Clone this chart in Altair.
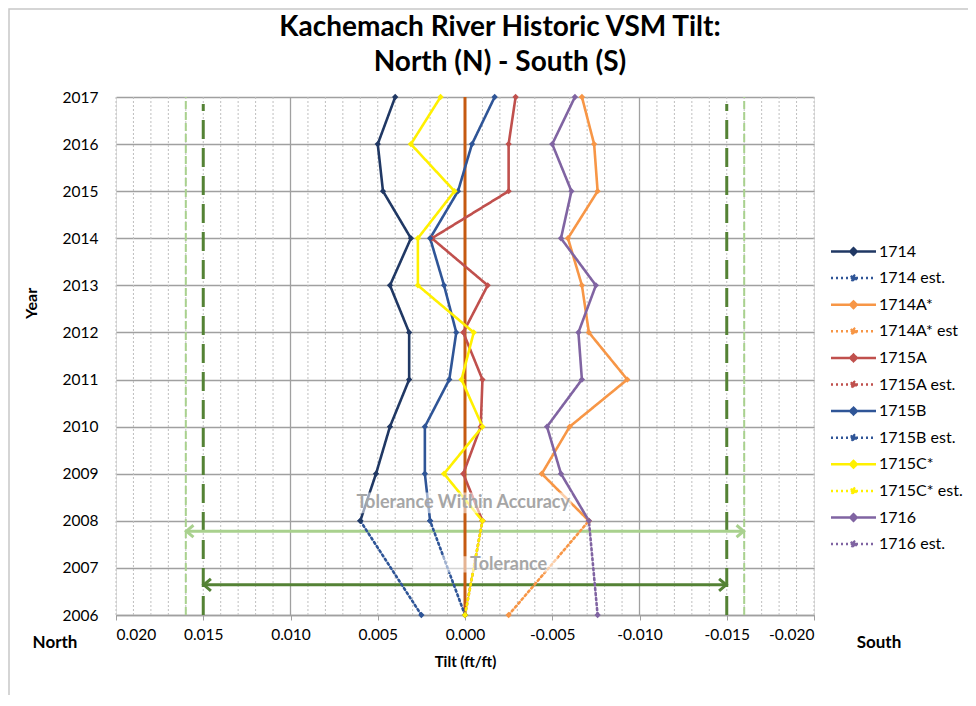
import altair as alt
import pandas as pd

# ---------------- data ----------------
years_main = [2008, 2009, 2010, 2011, 2012, 2013, 2014, 2015, 2016, 2017]
tilt_1714  = [0.0060, 0.0051, 0.0043, 0.0032, 0.0032, 0.0043, 0.0031, 0.0047, 0.0050, 0.0040]
tilt_1714A = [-0.0071, -0.0044, -0.0060, -0.0093, -0.0071, -0.0067, -0.0059, -0.0076, -0.0074, -0.0067]
tilt_1715A = [-0.0010, 0.0001, -0.0009, -0.0010, 0.0001, -0.0013, 0.0019, -0.0025, -0.0025, -0.0029]
tilt_1715B = [0.0020, 0.0023, 0.0023, 0.0009, 0.0005, 0.0012, 0.0020, 0.0004, -0.0004, -0.0017]
tilt_1715C = [-0.0010, 0.0012, -0.0010, 0.0002, -0.0005, 0.0027, 0.0027, 0.0006, 0.0031, 0.0014]
tilt_1716  = [-0.0071, -0.0055, -0.0047, -0.0067, -0.0065, -0.0075, -0.0055, -0.0061, -0.0050, -0.0063]

years_est = [2006, 2008]
est_1714  = [0.0025, 0.0060]
est_1714A = [-0.0025, -0.0071]
est_1715A = [0.0000, -0.0010]
est_1715B = [0.0000, 0.0020]
est_1715C = [0.0000, -0.0010]
est_1716  = [-0.0076, -0.0071]

series_names = ["1714", "1714 est.", "1714A*", "1714A* est", "1715A", "1715A est.",
                "1715B", "1715B est.", "1715C*", "1715C* est.", "1716", "1716 est."]
series_colors = ["#203864", "#2F5597", "#F79646", "#F79646", "#C0504D", "#C0504D",
                 "#2F5597", "#2F5597", "#FFF000", "#FFF000", "#8064A2", "#8064A2"]
series_dash = [[1, 0], [2, 3], [1, 0], [2, 3], [1, 0], [2, 3],
               [1, 0], [2, 3], [1, 0], [2, 3], [1, 0], [2, 3]]

x_tick_values = [0.02, 0.015, 0.01, 0.005, 0.0, -0.005, -0.01, -0.015, -0.02]
year_ticks = [2006, 2007, 2008, 2009, 2010, 2011, 2012, 2013, 2014, 2015, 2016, 2017]
minor_grid = [0.02, 0.019, 0.018, 0.017, 0.016, 0.015, 0.014, 0.013, 0.012, 0.011,
              0.009, 0.008, 0.007, 0.006, 0.005, 0.004, 0.003, 0.002, 0.001,
              -0.001, -0.002, -0.003, -0.004, -0.005, -0.006, -0.007, -0.008, -0.009,
              -0.011, -0.012, -0.013, -0.014, -0.015, -0.016, -0.017, -0.018, -0.019, -0.02]
major_grid = [0.01, -0.01]

tol_x = [0.015, -0.015]
tol_acc_x = [0.016, -0.016]
tol_arrow_year = 2006.64
tol_acc_arrow_year = 2007.78

title_text = "Kachemach River Historic VSM Tilt:\nNorth (N) - South (S)"

# ---------------- build table ----------------
rows = []
est_sets = [("1714 est.", est_1714), ("1714A* est", est_1714A), ("1715A est.", est_1715A),
            ("1715B est.", est_1715B), ("1716 est.", est_1716), ("1715C* est.", est_1715C)]
main_sets = [("1714", tilt_1714), ("1714A*", tilt_1714A), ("1715A", tilt_1715A),
             ("1715B", tilt_1715B), ("1716", tilt_1716), ("1715C*", tilt_1715C)]
for name, vals in est_sets:
    for yr, v in zip(years_est, vals):
        rows.append({"series": name, "year": yr, "tilt": v})
for name, vals in main_sets:
    for yr, v in zip(years_main, vals):
        rows.append({"series": name, "year": yr, "tilt": v})
df = pd.DataFrame(rows)

FONT = "Lato"
xscale = alt.Scale(domain=[-0.02, 0.02], reverse=True, nice=False, zero=False)
yscale = alt.Scale(domain=[2006, 2017], nice=False, zero=False)

legend = alt.Legend(
    orient="none", legendX=721, legendY=138, title=None,
    symbolType="M-1.5,0L1.5,0M0,-0.22L0.22,0L0,0.22L-0.22,0Z",
    symbolSize=900, symbolStrokeWidth=2.5, labelFontSize=16, labelFont=FONT,
    labelOffset=9, rowPadding=1.6, padding=0, labelColor="#000000", labelLimit=200,
)

# grid layers
minor = alt.Chart(pd.DataFrame({"x": minor_grid})).mark_rule(
    color="#BFBFBF", strokeDash=[2, 2], strokeWidth=1
).encode(x=alt.X("x:Q", scale=xscale))
major = alt.Chart(pd.DataFrame({"x": major_grid})).mark_rule(
    color="#A0A0A0", strokeWidth=1.3
).encode(x=alt.X("x:Q", scale=xscale))

# base axes layer (horizontal grid + labels)
axis_layer = alt.Chart(pd.DataFrame({"year": year_ticks, "tilt": [0.0] * 12})).mark_point(
    opacity=0
).encode(
    x=alt.X("tilt:Q", scale=xscale, title="Tilt (ft/ft)",
            axis=alt.Axis(values=x_tick_values, grid=False, domain=True, domainColor="#A0A0A0",
                          domainWidth=1.3,
                          tickColor="#A0A0A0", tickSize=5, labelFontSize=15.5, labelFont=FONT,
                          labelColor="#000000", labelPadding=7,
                          labelExpr="replace(format(datum.value, '.3f'), '\u2212', '-')",
                          titleFont=FONT, titleFontSize=15, titleFontWeight="bold",
                          titleColor="#000000", titlePadding=12)),
    y=alt.Y("year:Q", scale=yscale, title="Year",
            axis=alt.Axis(values=year_ticks, format="d", grid=True, gridColor="#A0A0A0",
                          gridWidth=1.3, domain=False, ticks=False, labelFontSize=15.5,
                          labelFont=FONT, labelColor="#000000", labelPadding=18,
                          titleFont=FONT, titleFontSize=16, titleFontWeight="bold",
                          titleColor="#000000", titleX=-77, titleY=206)),
)

# tolerance dashed verticals
tol_df = pd.DataFrame({"x": tol_x, "y1": [2006.0, 2006.0], "y2": [2016.85, 2016.85]})
tol = alt.Chart(tol_df).mark_rule(color="#548235", strokeWidth=3, strokeDash=[19, 9]).encode(
    x=alt.X("x:Q", scale=xscale), y=alt.Y("y1:Q", scale=yscale), y2="y2:Q")
tolacc_df = pd.DataFrame({"x": tol_acc_x, "y1": [2006.0, 2006.0], "y2": [2017.0, 2017.0]})
tolacc = alt.Chart(tolacc_df).mark_rule(color="#A9D18E", strokeWidth=2, strokeDash=[8, 3]).encode(
    x=alt.X("x:Q", scale=xscale), y=alt.Y("y1:Q", scale=yscale), y2="y2:Q")

# arrows
arr_df = pd.DataFrame({"x1": [tol_x[0], tol_acc_x[0]], "x2": [tol_x[1], tol_acc_x[1]],
                       "y": [tol_arrow_year, tol_acc_arrow_year],
                       "c": ["#548235", "#A9D18E"]})
arrows = alt.Chart(arr_df).mark_rule(strokeWidth=3).encode(
    x=alt.X("x1:Q", scale=xscale), x2="x2:Q", y=alt.Y("y:Q", scale=yscale),
    color=alt.Color("c:N", scale=None))
head_df = pd.DataFrame({
    "x": [tol_x[0] - 0.0001, tol_x[1] + 0.0001, tol_acc_x[0] - 0.0001, tol_acc_x[1] + 0.0001],
    "y": [tol_arrow_year, tol_arrow_year, tol_acc_arrow_year, tol_acc_arrow_year],
    "c": ["#548235", "#548235", "#A9D18E", "#A9D18E"],
    "side": ["L", "R", "L", "R"],
})
head_l = alt.Chart(head_df[head_df.side == "L"]).mark_point(
    shape="M1,-1L-0.2,0L1,1", filled=False, strokeWidth=3, size=140, opacity=1
).encode(x=alt.X("x:Q", scale=xscale), y=alt.Y("y:Q", scale=yscale),
         stroke=alt.Color("c:N", scale=None))
head_r = alt.Chart(head_df[head_df.side == "R"]).mark_point(
    shape="M-1,-1L0.2,0L-1,1", filled=False, strokeWidth=3, size=140, opacity=1
).encode(x=alt.X("x:Q", scale=xscale), y=alt.Y("y:Q", scale=yscale),
         stroke=alt.Color("c:N", scale=None))

# zero reference line
zero = alt.Chart(pd.DataFrame({"x": [0.0], "y1": [2006.0], "y2": [2017.0]})).mark_rule(
    color="#C55A11", strokeWidth=3).encode(
    x=alt.X("x:Q", scale=xscale), y=alt.Y("y1:Q", scale=yscale), y2="y2:Q")

# series lines
lines = alt.Chart(df).mark_line(
    strokeWidth=2.6, strokeCap="round",
    point=alt.OverlayMarkDef(shape="diamond", size=40, filled=True),
).encode(
    x=alt.X("tilt:Q", scale=xscale),
    y=alt.Y("year:Q", scale=yscale),
    color=alt.Color("series:N", scale=alt.Scale(domain=series_names, range=series_colors),
                    legend=legend),
    strokeDash=alt.StrokeDash("series:N", scale=alt.Scale(domain=series_names, range=series_dash),
                              legend=legend),
    order="year:Q",
    detail="series:N",
)

# annotation boxes + text
box_df = pd.DataFrame({"x1": [0.0062, 0.0030], "x2": [-0.0061, -0.0053],
                       "y1": [2008.16, 2006.9], "y2": [2008.6, 2007.25]})
boxes = alt.Chart(box_df).mark_rect(color="white", opacity=0.55).encode(
    x=alt.X("x1:Q", scale=xscale), x2="x2:Q",
    y=alt.Y("y1:Q", scale=yscale), y2="y2:Q")
txt_df = pd.DataFrame({"x": [0.0001, -0.0025], "y": [2008.38, 2007.07],
                       "t": ["Tolerance Within Accuracy", "Tolerance"]})
texts = alt.Chart(txt_df).mark_text(
    font=FONT, fontSize=18, fontWeight="bold", color="#A6A6A6", baseline="middle"
).encode(x=alt.X("x:Q", scale=xscale), y=alt.Y("y:Q", scale=yscale), text="t:N")

ns = alt.Chart(pd.DataFrame({"t": ["North", "South"], "px": [-61, 763]})).mark_text(
    font=FONT, fontSize=17, fontWeight="bold", color="#000000", baseline="middle"
).encode(x=alt.X("px:Q", scale=None), y=alt.value(546), text="t:N")

title = alt.Chart(pd.DataFrame({"t": [title_text]})).mark_text(
    font=FONT, fontSize=28, fontWeight="bold", color="#000000", baseline="alphabetic",
    align="center", lineBreak="\n", lineHeight=35
).encode(x=alt.value(384), y=alt.value(-61), text="t:N")

border = alt.Chart(pd.DataFrame({"a": [1]})).mark_rect(
    fill="transparent", stroke="#C8C8C8", strokeWidth=1.5
).encode(x=alt.value(-107), x2=alt.value(880), y=alt.value(-88), y2=alt.value(700))

chart = alt.layer(
    border, minor, major, axis_layer, tolacc, tol, arrows, head_l, head_r, zero,
    lines, boxes, texts, ns, title
).properties(
    width=698, height=518,
    padding={"left": 108, "top": 89, "right": 154, "bottom": 80},
    autosize="none",
).configure_view(stroke=None).configure(background="white")

chart.save("out.html", embed_options={"renderer": "svg", "actions": False})
